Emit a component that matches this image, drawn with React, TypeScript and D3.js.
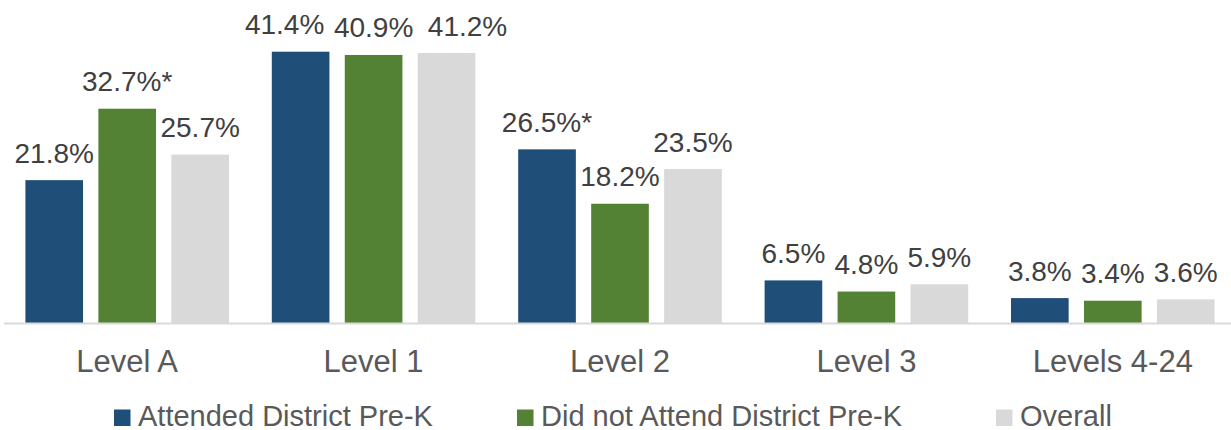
import React from "react";
import * as d3 from "d3";

const categories = ["Level A", "Level 1", "Level 2", "Level 3", "Levels 4-24"];
const seriesNames = ["Attended District Pre-K", "Did not Attend District Pre-K", "Overall"];
const attended = [21.8, 41.4, 26.5, 6.5, 3.8];
const notAttended = [32.7, 40.9, 18.2, 4.8, 3.4];
const overall = [25.7, 41.2, 23.5, 5.9, 3.6];
const attendedLabels = ["21.8%", "41.4%", "26.5%*", "6.5%", "3.8%"];
const notAttendedLabels = ["32.7%*", "40.9%", "18.2%", "4.8%", "3.4%"];
const overallLabels = ["25.7%", "41.2%", "23.5%", "5.9%", "3.6%"];

// layout only: horizontal nudges applied to labels that would otherwise collide (Level 1)
const labelNudge: Record<string, number> = { "0-1": -16, "2-1": 21 };

const colors = ["#1F4E79", "#548235", "#D9D9D9"];
const W = 1231;
const H = 430;
const FONT = "'Liberation Sans', Arial, sans-serif";

export default function App() {
  const series = [attended, notAttended, overall];
  const labels = [attendedLabels, notAttendedLabels, overallLabels];
  const baseY = 323;
  const x0 = d3.scaleBand<string>().domain(categories).range([4, 1236]).padding(0);
  const x1 = d3.scaleBand<string>().domain(seriesNames).range([21.4, 225]).paddingInner(0.21).paddingOuter(0);
  const y = d3.scaleLinear().domain([0, 45]).range([baseY, baseY - 45 * 6.553]);
  const legendX = [114, 517, 996];

  return (
    <svg width={W} height={H} style={{ position: "absolute", left: 0, top: 0 }} fontFamily={FONT}>
      <rect width={W} height={H} fill="#fff" />
      {categories.map((c, i) => (
        <g key={c} transform={`translate(${x0(c)},0)`}>
          {seriesNames.map((s, k) => {
            const v = series[k][i];
            const bx = x1(s)!;
            const bw = x1.bandwidth();
            const nudge = labelNudge[`${k}-${i}`] || 0;
            return (
              <g key={s}>
                <rect x={bx} y={y(v)} width={bw} height={baseY - y(v)} fill={colors[k]} />
                <text x={bx + bw / 2 + nudge} y={y(v) - 17.5} textAnchor="middle" fontSize={28} fill="#404040">
                  {labels[k][i]}
                </text>
              </g>
            );
          })}
          <text x={x0.bandwidth() / 2} y={371.5} textAnchor="middle" fontSize={31} fill="#595959">
            {c}
          </text>
        </g>
      ))}
      <line x1={4} x2={W} y1={baseY + 0.5} y2={baseY + 0.5} stroke="#D9D9D9" strokeWidth={2} />
      {seriesNames.map((s, k) => (
        <g key={s} transform={`translate(${legendX[k]},0)`}>
          <rect x={0} y={409.5} width={16.5} height={16.5} fill={colors[k]} />
          <text x={24} y={425.5} fontSize={29} fill="#595959">
            {s}
          </text>
        </g>
      ))}
    </svg>
  );
}
